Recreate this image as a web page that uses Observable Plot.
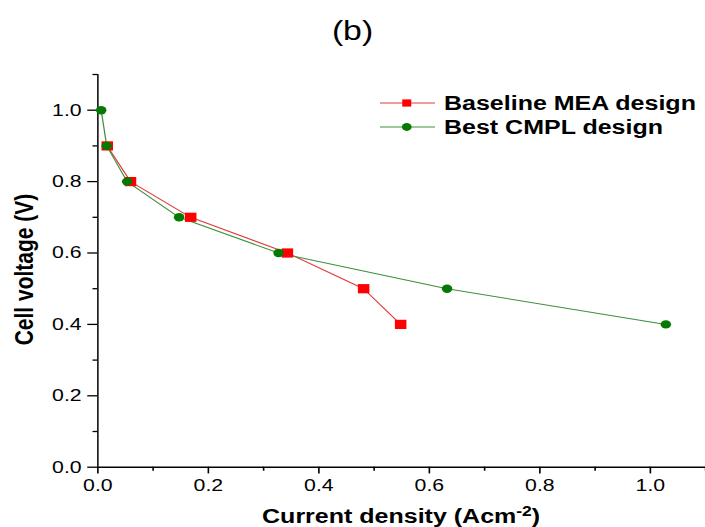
<!DOCTYPE html>
<html>
<head>
<meta charset="utf-8">
<script src="https://cdn.jsdelivr.net/npm/d3@7"></script>
<script src="https://cdn.jsdelivr.net/npm/@observablehq/plot@0.6"></script>
<style>
  html, body { margin: 0; padding: 0; background: white; }
  #wrap { position: relative; width: 564px; height: 527px; transform: scaleX(1.25); transform-origin: 0 0;
          font-family: "Liberation Sans", Arial, sans-serif; color: black; }
  #chart svg { display: block; }
  #title { position: absolute; left: 0; top: 18px; width: 564px; text-align: center; font-size: 27px; line-height: 27px; }
  #xlabel { position: absolute; left: 77.8px; width: 486.2px; top: 505.6px; text-align: center;
            font-size: 20px; line-height: 20px; font-weight: bold; white-space: nowrap; }
  #xlabel sup { font-size: 14px; position: relative; top: -7px; vertical-align: baseline; line-height: 0; }
  #ylabel { position: absolute; left: -80.6px; top: 258.5px; width: 200px; height: 21px; text-align: center;
            font-size: 21px; line-height: 21px; font-weight: bold; white-space: nowrap; transform: rotate(-90deg); }
  #legend { position: absolute; left: 304px; top: 90.3px; }
  .row { display: flex; align-items: center; height: 24.7px; }
  .row span { margin-left: 7.2px; font-size: 20px; line-height: 24px; font-weight: bold; white-space: nowrap; }
</style>
</head>
<body>
<div id="wrap">
  <div id="chart"></div>
  <div id="title">(b)</div>
  <div id="xlabel">Current density (Acm<sup>-2</sup>)</div>
  <div id="ylabel">Cell voltage (V)</div>
  <div id="legend"></div>
</div>
<script>
// ---- data ----
const seriesNames = ["Baseline MEA design", "Best CMPL design"];
const seriesColors = ["#ff0000", "#047a04"];
const lineColors = ["#e23a3a", "#3d8f3d"];
const baselineJ = [0.017, 0.059, 0.168, 0.343, 0.481, 0.548];
const baselineV = [0.9, 0.8, 0.7, 0.6, 0.5, 0.4];
const cmplJ = [0.006, 0.016, 0.053, 0.147, 0.327, 0.632, 1.028];
const cmplV = [1.0, 0.9, 0.8, 0.7, 0.6, 0.5, 0.4];
const xMajor = [0, 0.2, 0.4, 0.6, 0.8, 1.0];
const xMinor = [0.1, 0.3, 0.5, 0.7, 0.9, 1.1];
const yMajor = [0, 0.2, 0.4, 0.6, 0.8, 1.0];
const yMinor = [0.1, 0.3, 0.5, 0.7, 0.9, 1.1];

const baseline = baselineJ.map((j, i) => ({j, v: baselineV[i], s: seriesNames[0]}));
const cmpl = cmplJ.map((j, i) => ({j, v: cmplV[i], s: seriesNames[1]}));
const fmt = d3.format(".1f");

const chart = Plot.plot({
  width: 564,
  height: 527,
  marginLeft: 77.8,
  marginRight: 0,
  marginTop: 74,
  marginBottom: 60.3,
  x: {domain: [0, 1.1], label: null},
  y: {domain: [0, 1.1], label: null},
  style: {fontFamily: "'Liberation Sans', Arial, sans-serif", fontSize: "17px", color: "black", background: "white", overflow: "visible"},
  marks: [
    Plot.axisX(xMajor, {tickSize: 6.7, tickPadding: 5, tickFormat: fmt, fontSize: 17, strokeWidth: 1.3, label: null}),
    Plot.axisX(xMinor, {tickSize: 4, tickFormat: () => "", strokeWidth: 1.3, label: null}),
    Plot.axisY(yMajor, {tickSize: 8, tickPadding: 5, tickFormat: fmt, fontSize: 17, strokeWidth: 1.3, label: null}),
    Plot.axisY(yMinor, {tickSize: 3.8, tickFormat: () => "", strokeWidth: 1.3, label: null}),
    Plot.ruleX([0], {y1: 0, y2: 1.1, stroke: "black", strokeWidth: 1.2}),
    Plot.ruleY([0], {stroke: "black", strokeWidth: 1.5}),
    Plot.line(baseline, {x: "j", y: "v", stroke: lineColors[0], strokeWidth: 1}),
    Plot.line(cmpl, {x: "j", y: "v", stroke: lineColors[1], strokeWidth: 1}),
    Plot.dot(baseline, {x: "j", y: "v", symbol: "square", r: 5.2, fill: seriesColors[0], stroke: "none"}),
    Plot.dot(cmpl, {x: "j", y: "v", symbol: "circle", r: 4.2, fill: seriesColors[1], stroke: "none"})
  ]
});
document.getElementById("chart").appendChild(chart);

// legend
const legend = document.getElementById("legend");
seriesNames.forEach((name, i) => {
  const row = document.createElement("div");
  row.className = "row";
  const marker = i === 0
    ? `<rect x="${21.4 - 3.6}" y="${12 - 3.6}" width="7.2" height="7.2" fill="${seriesColors[0]}"/>`
    : `<circle cx="21.4" cy="12" r="3.9" fill="${seriesColors[1]}"/>`;
  row.innerHTML = `<svg width="44" height="24" style="display:block"><line x1="0" y1="12" x2="44" y2="12" stroke="${lineColors[i]}" stroke-width="1"/>${marker}</svg><span>${name}</span>`;
  legend.appendChild(row);
});
</script>
</body>
</html>
